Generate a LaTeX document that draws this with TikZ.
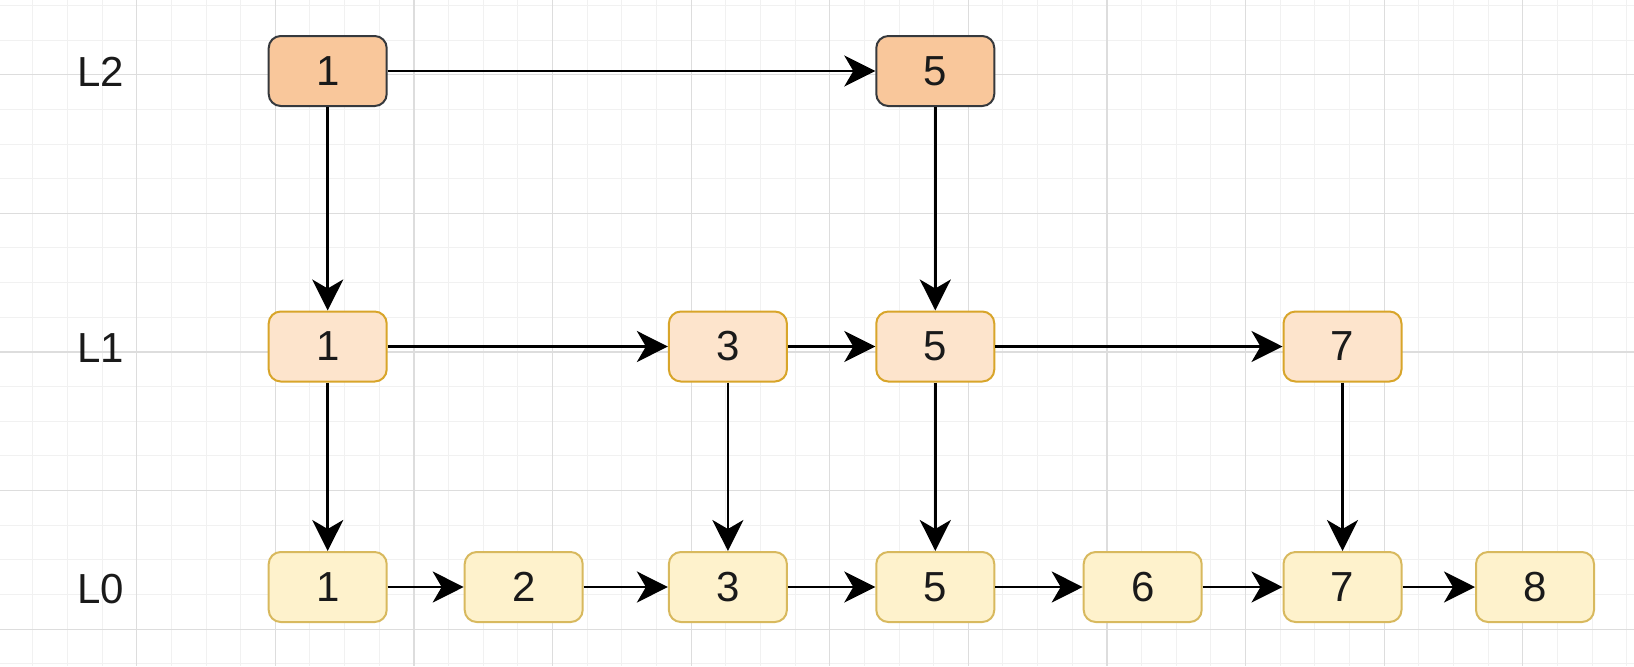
\documentclass[tikz,border=0pt]{standalone}
\usepackage{fontspec}
\setmainfont{Liberation Sans}
\usetikzlibrary{arrows.meta}
\definecolor{gminor}{HTML}{F1F1F1}
\definecolor{gmajor}{HTML}{DDDDDD}
\definecolor{ltwofill}{HTML}{F9C79B}
\definecolor{ltwodraw}{HTML}{36393D}
\definecolor{lonefill}{HTML}{FDE4CC}
\definecolor{lonedraw}{HTML}{D8A52A}
\definecolor{lzerofill}{HTML}{FEF2CC}
\definecolor{lzerodraw}{HTML}{D8B95E}
\definecolor{txt}{HTML}{1A1A1A}
\tikzset{
  gridminor/.style={draw=gminor, line width=0.5pt},
  gridmajor/.style={draw=gmajor, line width=0.6pt},
  keybox/.style={rectangle, rounded corners=6pt, minimum width=59pt, minimum height=35pt,
    inner sep=0pt, line width=1pt, text=txt, font=\fontsize{21pt}{25pt}\selectfont},
  ltwo/.style={keybox, fill=ltwofill, draw=ltwodraw},
  lone/.style={keybox, fill=lonefill, draw=lonedraw},
  lzero/.style={keybox, fill=lzerofill, draw=lzerodraw},
  levellabel/.style={text=txt, font=\fontsize{21pt}{25pt}\selectfont, inner sep=0pt},
  arr/.style={-{Stealth[length=15.5pt, width=15.5pt, inset=4.5pt]}, line width=1.3pt, draw=black}
}
\begin{document}
\begin{tikzpicture}[x=0.5pt, y=-0.5pt]
\useasboundingbox (0,0) rectangle (1634,666);
\fill[white] (0,0) rectangle (1634,666);
% grid
\foreach \i in {0,...,47} { \draw[gridminor] ({-1.9+34.65*\i},0) -- ({-1.9+34.65*\i},666); }
\foreach \i in {0,...,19} { \draw[gridminor] (0,{5.4+34.65*\i}) -- (1634,{5.4+34.65*\i}); }
\foreach \i in {0,...,11} { \draw[gridmajor] ({-1.9+138.6*\i},0) -- ({-1.9+138.6*\i},666); }
\foreach \i in {0,...,4} { \draw[gridmajor] (0,{74.7+138.6*\i}) -- (1634,{74.7+138.6*\i}); }
% labels
\node[levellabel] (lab2) at (101,72) {L2};
\node[levellabel] (lab1) at (101,348) {L1};
\node[levellabel] (lab0) at (101,589) {L0};
% level 2
\node[ltwo] (a1) at (327.7,71) {1};
\node[ltwo] (a5) at (935.3,71) {5};
% level 1
\node[lone] (b1) at (327.7,346.5) {1};
\node[lone] (b3) at (727.9,346.5) {3};
\node[lone] (b5) at (935.3,346.5) {5};
\node[lone] (b7) at (1342.5,346.5) {7};
% level 0
\node[lzero] (c1) at (327.7,587) {1};
\node[lzero] (c2) at (523.7,587) {2};
\node[lzero] (c3) at (727.9,587) {3};
\node[lzero] (c5) at (935.3,587) {5};
\node[lzero] (c6) at (1142.7,587) {6};
\node[lzero] (c7) at (1342.5,587) {7};
\node[lzero] (c8) at (1535,587) {8};
% connectors
\draw[arr] (a1) -- (a5);
\draw[arr] (a1) -- (b1);
\draw[arr] (a5) -- (b5);
\draw[arr] (b1) -- (b3);
\draw[arr] (b3) -- (b5);
\draw[arr] (b5) -- (b7);
\draw[arr] (b1) -- (c1);
\draw[arr] (b3) -- (c3);
\draw[arr] (b5) -- (c5);
\draw[arr] (b7) -- (c7);
\draw[arr] (c1) -- (c2);
\draw[arr] (c2) -- (c3);
\draw[arr] (c3) -- (c5);
\draw[arr] (c5) -- (c6);
\draw[arr] (c6) -- (c7);
\draw[arr] (c7) -- (c8);
\end{tikzpicture}
\end{document}
